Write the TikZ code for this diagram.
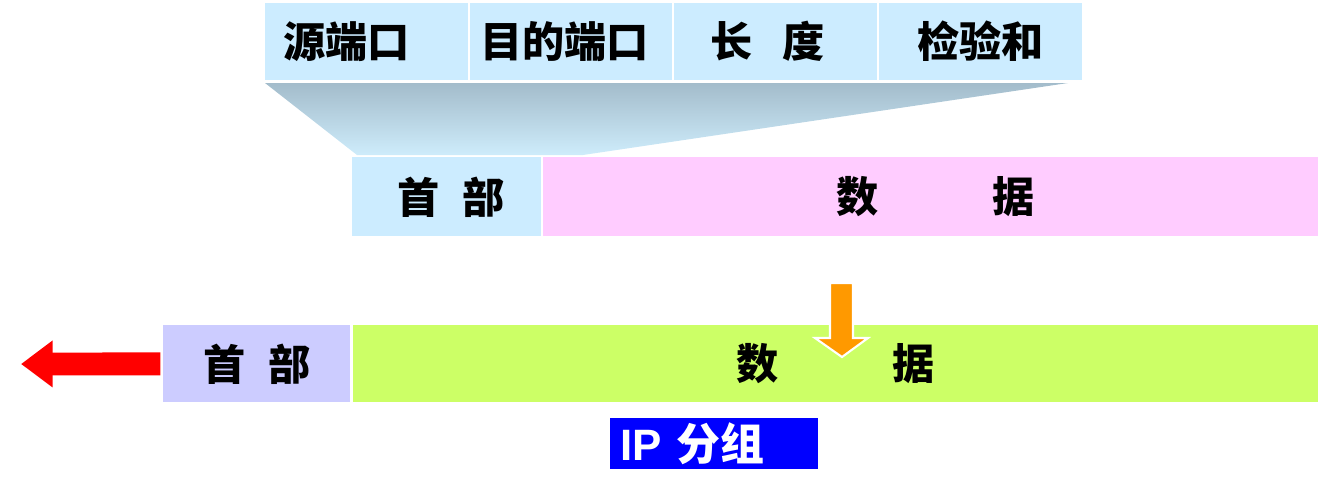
\documentclass[tikz,border=0pt]{standalone}
\usepackage{fontspec}
\setmainfont{Liberation Sans}
\newfontfamily\cjk{Noto Sans CJK SC}
\usetikzlibrary{arrows.meta}
\definecolor{fieldblue}{RGB}{204, 236, 255}
\definecolor{datapink}{RGB}{255, 204, 255}
\definecolor{iphdr}{RGB}{204, 204, 255}
\definecolor{ipdata}{RGB}{204, 255, 102}
\definecolor{fanTop}{RGB}{163, 188, 203}
\definecolor{fanBot}{RGB}{206, 236, 251}
\definecolor{dropOrange}{RGB}{255, 153, 0}
\begin{document}
\begin{tikzpicture}[x=0.02cm,y=-0.02cm,
  cell/.style={anchor=north west,inner sep=0pt,font=\cjk\bfseries\fontsize{24}{24}\selectfont},
  field/.style={cell,fill=fieldblue,minimum height=1.54cm}]
\useasboundingbox (0,0) rectangle (1340,478);
\node[field,minimum width=4.06cm] (src) at (265,3) {\raisebox{3pt}{源端口}\rule{0.95em}{0pt}};
\node[field,minimum width=4.04cm] (dst) at (470,3) {\raisebox{3pt}{目的端口}\rule{0.33em}{0pt}};
\node[field,minimum width=4.06cm] (len) at (674,3) {\raisebox{3pt}{长\hspace{0.7em}度}\rule{0.4em}{0pt}};
\node[field,minimum width=4.06cm] (chk) at (879,3) {\raisebox{3pt}{检验和}};
\shade[top color=fanTop,bottom color=fanBot] (265,83) -- (1068,83) -- (583,155) -- (357,155) -- cycle;
\node[cell,fill=fieldblue,minimum width=3.78cm,minimum height=1.58cm] (udpHdr) at (352,157) {\hspace{0.2em}首\hspace{0.55em}部};
\node[cell,fill=datapink,minimum width=15.5cm,minimum height=1.58cm] (udpData) at (543,157) {\hspace{0.25em}数\hspace{2.7em}据};
\node[cell,fill=iphdr,minimum width=3.74cm,minimum height=1.54cm] (ipHdr) at (163,325) {首\hspace{0.55em}部};
\node[cell,fill=ipdata,minimum width=19.3cm,minimum height=1.54cm] (ipData) at (353,325) {数\hspace{2.7em}据};
\filldraw[fill=dropOrange,draw=white,line width=1.2pt] (830,283) -- (853,283) -- (853,338) -- (868,338) -- (842,357) -- (815,338) -- (830,338) -- cycle;
\coordinate (redTip) at (21,364);
\draw[red,line width=13pt,-{Triangle[width=25.5pt,length=18pt]},shorten <=1.5pt] (ipHdr.west) -- (redTip);
\node[anchor=north west,fill=blue,text=white,inner xsep=0.2cm,inner ysep=0pt,text width=3.76cm,align=left,minimum height=1.02cm,font=\bfseries\fontsize{25}{25}\selectfont] (ipLabel) at (610,418) {IP {\cjk 分组}};
\end{tikzpicture}
\end{document}
